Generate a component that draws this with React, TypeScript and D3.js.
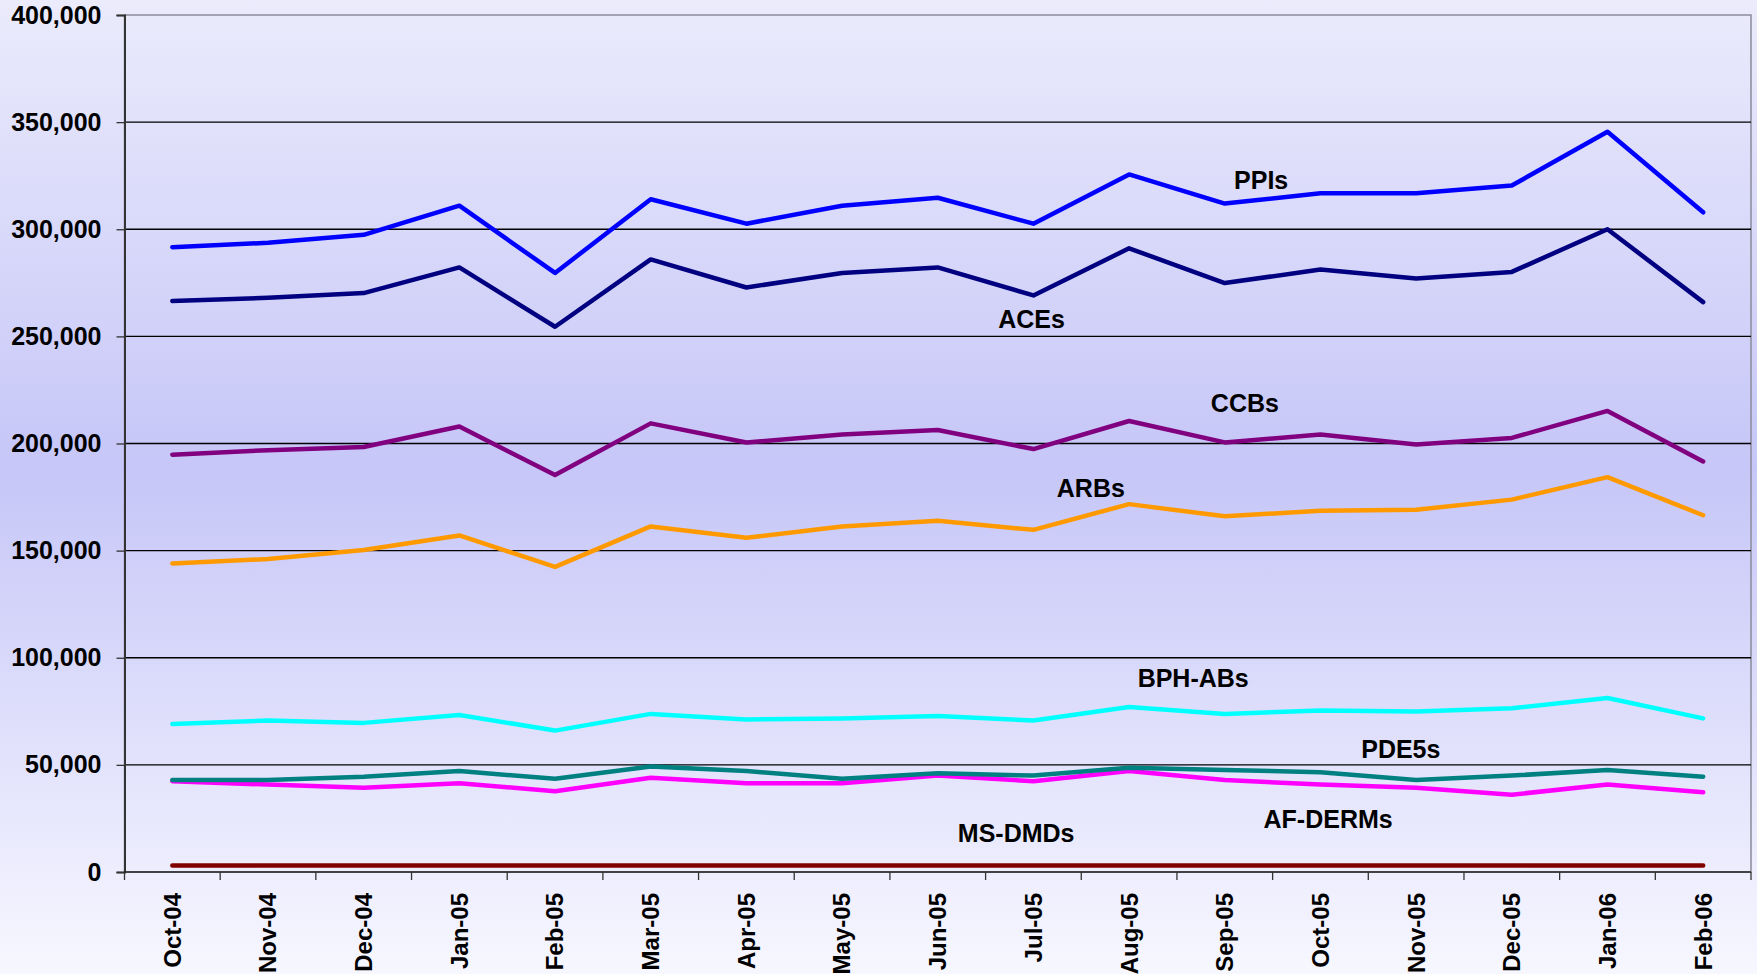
import React, { useRef, useEffect } from "react";
import * as d3 from "d3";

const months = [
  "Oct-04", "Nov-04", "Dec-04", "Jan-05", "Feb-05", "Mar-05", "Apr-05", "May-05", "Jun-05",
  "Jul-05", "Aug-05", "Sep-05", "Oct-05", "Nov-05", "Dec-05", "Jan-06", "Feb-06",
];

const ppis = [291600, 293700, 297400, 311000, 279600, 314000, 302600, 311000, 314700, 302600, 325600, 312000, 316800, 316800, 320400, 345500, 307900];
const aces = [266500, 268000, 270200, 282200, 254500, 285900, 272800, 279600, 282200, 269100, 291100, 274900, 281200, 277000, 280100, 300000, 266000];
const ccbs = [194800, 196900, 198400, 207900, 185300, 209400, 200500, 204200, 206300, 197400, 210500, 200500, 204200, 199500, 202600, 215200, 191600];
const arbs = [144000, 146100, 150300, 157100, 142400, 161300, 156000, 161300, 163900, 159700, 171700, 166000, 168600, 169100, 173800, 184300, 166500];
const bphAbs = [69100, 70700, 69600, 73300, 66000, 73800, 71200, 71700, 72800, 70700, 77000, 73800, 75400, 74900, 76400, 81200, 71700];
const pde5s = [42900, 42900, 44500, 47100, 43500, 49200, 47100, 43500, 46100, 45000, 48700, 47600, 46600, 42900, 45000, 47600, 44500];
const afDerms = [42400, 40800, 39300, 41400, 37700, 44000, 41400, 41400, 45000, 42400, 47100, 42900, 40800, 39300, 36100, 40800, 37200];
const msDmds = [3000, 3000, 3000, 3000, 3000, 3000, 3000, 3000, 3000, 3000, 3000, 3000, 3000, 3000, 3000, 3000, 3000];

const yTicks = [0, 50000, 100000, 150000, 200000, 250000, 300000, 350000, 400000];

// label text, fractional month index, value at baseline
const labelNames = ["PPIs", "ACEs", "CCBs", "ARBs", "BPH-ABs", "PDE5s", "AF-DERMs", "MS-DMDs"];
const labelAt = [11.38, 8.98, 11.21, 9.6, 10.67, 12.84, 12.08, 8.82];
const labelValue = [318800, 253900, 214700, 175000, 86300, 53200, 20500, 14000];

export default function App() {
  const svgRef = useRef<SVGSVGElement>(null);

  useEffect(() => {
    const width = 1757;
    const height = 974;
    const left = 124.5;
    const right = 1751;
    const top = 15;
    const bottom = 872;
    const font = "'Liberation Sans', Arial, sans-serif";

    const svg = d3.select(svgRef.current);
    svg.selectAll("*").remove();
    svg.attr("width", width).attr("height", height);

    // background gradient
    const grad = svg
      .append("defs")
      .append("linearGradient")
      .attr("id", "bg")
      .attr("x1", 0)
      .attr("y1", 0)
      .attr("x2", 0)
      .attr("y2", 1);
    grad.append("stop").attr("offset", "0%").attr("stop-color", "#ebebfc");
    grad.append("stop").attr("offset", "48%").attr("stop-color", "#c6c6f8");
    grad.append("stop").attr("offset", "100%").attr("stop-color", "#f7f7ff");
    svg.append("rect").attr("width", width).attr("height", height).attr("fill", "url(#bg)");

    const x = d3.scaleBand().domain(months).range([left, right]).padding(0);
    const y = d3.scaleLinear().domain([0, 400000]).range([bottom, top]);
    const cx = (m: string) => (x(m) as number) + x.bandwidth() / 2;
    const idx = d3
      .scaleLinear()
      .domain([0, months.length - 1])
      .range([cx(months[0]), cx(months[months.length - 1])]);

    // plot border
    svg
      .append("rect")
      .attr("x", left)
      .attr("y", top)
      .attr("width", right - left)
      .attr("height", bottom - top)
      .attr("fill", "none")
      .attr("stroke", "#8a8a9a")
      .attr("stroke-width", 1.5);

    // gridlines
    svg
      .append("g")
      .selectAll("line")
      .data(yTicks.filter((t) => t > 0 && t < 400000))
      .join("line")
      .attr("x1", left)
      .attr("x2", right)
      .attr("y1", (d) => y(d))
      .attr("y2", (d) => y(d))
      .attr("stroke", "#000")
      .attr("stroke-width", 1.3);

    // y axis
    const yAxis = svg
      .append("g")
      .attr("transform", `translate(${left},0)`)
      .call(
        d3
          .axisLeft(y)
          .tickValues(yTicks)
          .tickSize(8)
          .tickPadding(15)
          .tickFormat((d) => d3.format(",")(d as number))
      );
    yAxis.select(".domain").attr("stroke", "#333").attr("stroke-width", 2);
    yAxis.selectAll(".tick line").attr("stroke", "#333").attr("stroke-width", 1.3);
    yAxis
      .selectAll(".tick text")
      .attr("fill", "#000")
      .style("font-family", font)
      .style("font-weight", "bold")
      .style("font-size", "25px");

    // x axis
    svg
      .append("line")
      .attr("x1", left)
      .attr("x2", right)
      .attr("y1", bottom)
      .attr("y2", bottom)
      .attr("stroke", "#222")
      .attr("stroke-width", 1.5);
    svg
      .append("g")
      .selectAll("line")
      .data(months.concat(["end"]))
      .join("line")
      .attr("x1", (d, i) => (i < months.length ? (x(d) as number) : right))
      .attr("x2", (d, i) => (i < months.length ? (x(d) as number) : right))
      .attr("y1", bottom)
      .attr("y2", bottom + 8)
      .attr("stroke", "#333")
      .attr("stroke-width", 1.3);
    svg
      .append("g")
      .selectAll("text")
      .data(months)
      .join("text")
      .attr("transform", (d) => `translate(${cx(d)},${bottom + 21}) rotate(-90)`)
      .attr("text-anchor", "end")
      .attr("dy", "0.35em")
      .style("font-family", font)
      .style("font-weight", "bold")
      .style("font-size", "24px")
      .text((d) => d);

    // series
    const series = [
      { values: msDmds, color: "#800000" },
      { values: afDerms, color: "#ff00ff" },
      { values: pde5s, color: "#008080" },
      { values: bphAbs, color: "#00ffff" },
      { values: arbs, color: "#ff9900" },
      { values: ccbs, color: "#800080" },
      { values: aces, color: "#000080" },
      { values: ppis, color: "#0000ff" },
    ];
    const line = d3
      .line<number>()
      .x((_, i) => cx(months[i]))
      .y((d) => y(d));
    series.forEach((s) => {
      svg
        .append("path")
        .datum(s.values)
        .attr("d", line)
        .attr("fill", "none")
        .attr("stroke", s.color)
        .attr("stroke-width", 4.5)
        .attr("stroke-linejoin", "round")
        .attr("stroke-linecap", "round");
    });

    // series labels
    svg
      .append("g")
      .selectAll("text")
      .data(labelNames)
      .join("text")
      .attr("x", (_, i) => idx(labelAt[i]))
      .attr("y", (_, i) => y(labelValue[i]))
      .attr("text-anchor", "middle")
      .style("font-family", font)
      .style("font-weight", "bold")
      .style("font-size", "25px")
      .attr("fill", "#000")
      .text((d) => d);
  }, []);

  return (
    <svg
      ref={svgRef}
      style={{ position: "absolute", left: 0, top: 0, display: "block" }}
    ></svg>
  );
}
